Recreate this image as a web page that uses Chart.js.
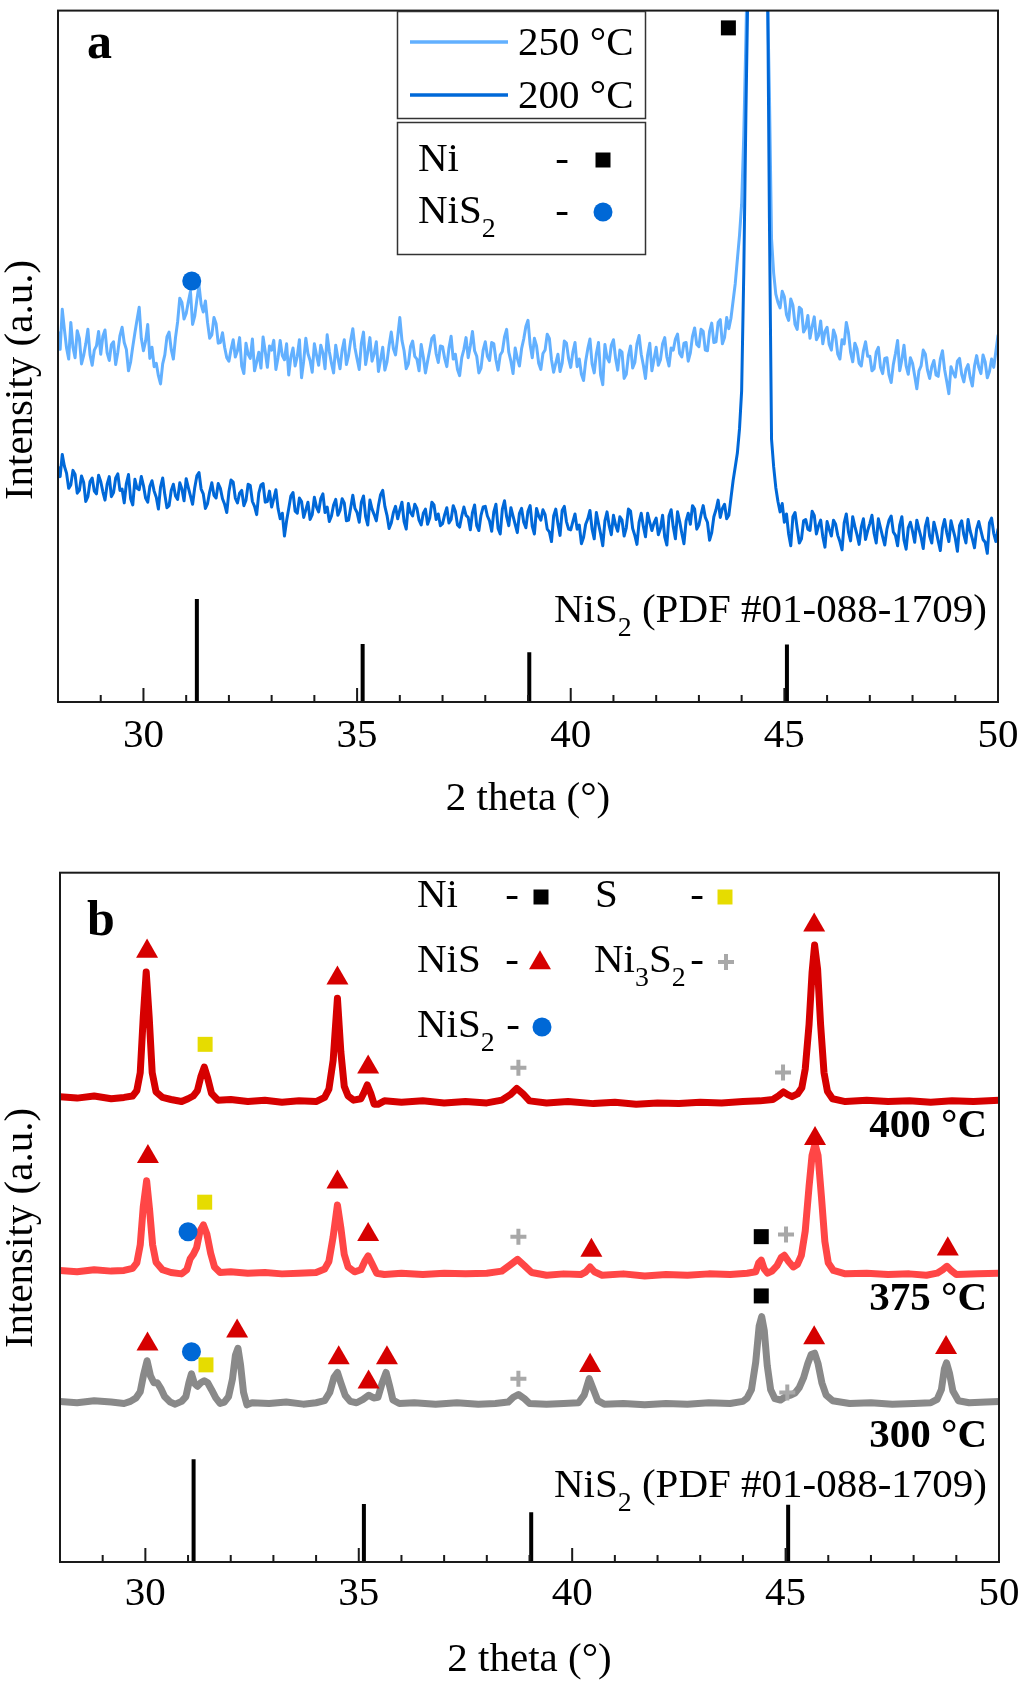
<!DOCTYPE html>
<html>
<head>
<meta charset="utf-8">
<script src="https://cdn.jsdelivr.net/npm/chart.js@4.4.1/dist/chart.umd.min.js"></script>
<style>
html, body { margin: 0; padding: 0; background: #fff; }
#wrap { position: relative; width: 1020px; height: 1681px; }
canvas { position: absolute; left: 0; }
#chartA { top: 0; }
#chartB { top: 860px; }
</style>
</head>
<body>
<div id="wrap">
  <canvas id="chartA" width="1020" height="840"></canvas>
  <canvas id="chartB" width="1020" height="821"></canvas>
</div>
<script>
// ---- axis ----
const xTicks = [30, 35, 40, 45, 50];
const xMinorTicks = [29, 31, 32, 33, 34, 36, 37, 38, 39, 41, 42, 43, 44, 46, 47, 48, 49];

// ---- panel a : 2 theta from 28 to 50, step 0.05 ----
const thetaStartA = 28;
const thetaStepA = 0.05;
const int250 = [
  53.5, 51.0, 56.8, 53.9, 51.2, 49.6, 54.9, 51.3, 49.8, 53.7, 52.6, 48.9, 50.1, 51.8, 53.9, 50.2, 48.7, 50.9, 51.5, 53.6,
  50.3, 52.9, 53.8, 50.5, 49.4, 51.7, 52.1, 48.8, 50.6, 53.0, 54.2, 52.0, 51.0, 47.9, 49.2, 51.4, 53.4, 55.3, 57.1, 52.6,
  50.8, 52.2, 54.6, 49.7, 51.3, 48.5, 49.0, 47.2, 46.0, 48.9, 50.2, 52.8, 53.5, 51.0, 49.6, 52.7, 55.0, 58.4, 57.8, 55.4,
  56.2, 57.9, 59.4, 54.6, 55.8, 58.2, 60.3, 57.5, 56.4, 58.0, 54.9, 52.6, 53.1, 55.6, 54.7, 51.9, 52.0, 53.4, 51.3, 49.8,
  49.3, 51.0, 52.4, 49.9, 50.8, 52.7, 48.6, 47.5, 51.9, 50.3, 49.7, 52.5, 47.9, 49.2, 50.6, 48.3, 52.8, 50.7, 48.4, 51.5,
  50.9, 52.3, 48.1, 49.8, 52.3, 50.1, 49.5, 51.8, 47.3, 49.9, 51.2, 48.6, 50.0, 52.4, 46.9, 49.3, 52.6, 50.4, 49.4, 47.7,
  51.8, 50.2, 48.7, 51.6, 50.5, 48.2, 53.1, 50.7, 49.0, 47.6, 51.6, 49.8, 48.2, 50.9, 52.4, 48.8, 50.1, 52.3, 54.0, 51.2,
  49.6, 48.1, 51.9, 53.5, 48.8, 50.6, 52.7, 49.3, 50.4, 52.1, 47.8, 49.5, 51.3, 48.0, 49.2, 51.6, 53.5, 51.1, 50.2, 52.8,
  55.6, 52.3, 50.8, 48.2, 48.9, 51.4, 52.2, 50.0, 49.6, 47.9, 51.7, 49.9, 47.6, 49.3, 50.9, 52.6, 53.0, 50.4, 49.1, 51.5,
  51.4, 49.7, 48.5, 51.2, 52.9, 49.6, 50.3, 48.1, 47.2, 49.8, 51.0, 52.7, 49.8, 51.5, 53.6, 50.8, 50.0, 47.6, 48.3, 50.9,
  52.1, 50.0, 49.4, 52.0, 51.8, 49.5, 48.0, 50.2, 50.7, 52.8, 53.9, 50.6, 49.3, 47.5, 51.2, 49.7, 48.6, 51.1, 52.5, 54.3,
  55.2, 51.7, 49.8, 52.6, 51.5, 49.0, 48.1, 50.4, 50.9, 53.2, 52.6, 49.5, 47.7, 49.0, 50.3, 47.8, 49.0, 52.2, 51.9, 49.7,
  48.4, 50.6, 52.0, 48.5, 49.6, 47.4, 46.5, 49.3, 51.1, 52.5, 48.9, 47.6, 50.4, 52.0, 47.3, 45.9, 51.7, 49.8, 49.2, 51.6,
  52.4, 49.7, 48.0, 50.9, 50.6, 46.8, 47.4, 50.1, 51.5, 48.3, 49.1, 51.8, 53.0, 50.3, 48.7, 46.8, 50.2, 51.9, 47.9, 49.6,
  51.3, 48.7, 49.5, 51.8, 52.7, 49.9, 48.6, 51.2, 50.9, 52.5, 53.2, 50.4, 49.9, 51.9, 52.0, 49.3, 50.5, 52.9, 54.1, 51.7,
  51.4, 53.9, 53.6, 50.9, 50.8, 53.6, 54.8, 52.0, 52.1, 54.9, 55.3, 51.8, 52.7, 55.6, 54.0, 55.5, 58.0, 60.5, 64.0, 67.5,
  72.0, 82.0, 96.0, 112, 130, 140, 145, 146, 145, 140, 130, 118, 104, 88.0, 67.0, 62.0, 59.0, 57.8, 57.0, 59.4,
  58.6, 56.0, 55.2, 58.3, 57.4, 54.6, 53.9, 57.1, 56.8, 53.5, 54.1, 55.9, 52.6, 54.3, 55.7, 52.4, 53.0, 55.1, 51.8, 53.6,
  54.2, 51.7, 50.9, 53.8, 52.9, 50.3, 49.6, 52.4, 51.8, 54.9, 53.4, 50.6, 49.2, 51.9, 51.1, 49.0, 48.6, 50.8, 52.1, 50.0,
  50.0, 47.9, 48.2, 50.6, 51.3, 48.4, 47.5, 49.7, 49.8, 47.3, 46.2, 48.8, 50.4, 52.3, 47.9, 49.5, 51.6, 48.6, 47.4, 49.8,
  49.0, 47.2, 45.3, 47.9, 48.6, 50.9, 50.3, 48.0, 46.8, 48.5, 49.4, 47.3, 47.1, 49.6, 50.8, 48.1, 46.4, 44.6, 48.5, 47.6,
  47.0, 49.3, 49.7, 47.4, 46.3, 48.1, 48.8, 46.9, 45.7, 48.6, 50.1, 48.4, 47.5, 50.2, 49.2, 46.9, 47.8, 49.6, 48.4, 50.7,
  53.0
];
const int200 = [
  34.0, 32.6, 35.8, 34.1, 33.1, 30.9, 31.4, 33.5, 32.9, 30.2, 30.6, 32.7, 31.8, 29.0, 29.7, 31.9, 32.4, 30.5, 30.1, 32.8,
  31.9, 30.4, 29.2, 31.5, 32.6, 29.7, 30.3, 32.4, 33.0, 30.6, 30.8, 28.8, 31.6, 32.9, 29.4, 28.5, 32.2, 30.9, 30.7, 32.6,
  31.3, 29.5, 28.9, 31.2, 32.0, 30.5, 29.6, 27.9, 31.1, 32.4, 30.0, 28.1, 28.4, 30.6, 31.5, 29.8, 29.3, 31.7, 30.8, 29.1,
  32.3, 31.0, 29.8, 28.6, 31.0, 32.7, 33.2, 30.8, 30.1, 28.0, 28.7, 30.4, 31.7, 29.9, 29.5, 31.6, 30.9, 29.4, 28.6, 27.4,
  30.4, 32.1, 31.8, 29.5, 28.8, 30.2, 30.6, 28.4, 29.2, 31.5, 31.3, 29.0, 28.3, 27.1, 30.2, 31.4, 31.6, 28.9, 29.0, 30.5,
  28.2, 29.4, 30.7, 28.0, 26.5, 27.3, 24.0, 26.2, 28.0, 29.8, 30.3, 27.6, 27.3, 29.5, 29.0, 26.7, 27.8, 28.9, 26.4, 27.1,
  29.6, 28.2, 27.5, 29.4, 30.1, 27.4, 28.2, 26.1, 26.9, 28.5, 29.3, 27.0, 27.7, 29.4, 28.8, 26.2, 26.3, 28.1, 29.9, 28.0,
  27.4, 26.0, 28.9, 29.8, 26.8, 25.6, 29.2, 27.9, 27.1, 26.2, 28.4, 30.0, 30.6, 28.3, 27.0, 25.1, 25.9, 27.4, 28.3, 26.5,
  27.8, 28.9, 26.1, 25.0, 28.7, 27.4, 26.9, 28.6, 28.0, 26.3, 25.6, 27.3, 27.9, 25.7, 26.6, 28.9, 28.5, 26.4, 27.2, 25.5,
  25.8, 27.1, 28.1, 25.9, 26.4, 28.4, 27.6, 25.6, 25.3, 26.9, 28.2, 27.0, 26.7, 24.9, 27.4, 28.5, 25.5, 24.8, 27.0, 28.2,
  28.3, 26.9, 26.2, 24.7, 27.5, 28.6, 25.1, 24.3, 27.9, 29.1, 26.8, 25.5, 28.1, 26.9, 25.7, 24.5, 27.3, 28.0, 26.0, 25.2,
  27.6, 28.4, 25.4, 24.3, 28.0, 26.9, 26.3, 27.8, 27.1, 25.0, 24.6, 23.2, 26.9, 27.9, 25.8, 24.1, 27.7, 28.3, 26.1, 25.0,
  24.9, 26.1, 27.2, 25.0, 25.6, 22.9, 23.8, 25.7, 26.5, 27.7, 25.0, 23.6, 27.4, 25.8, 24.3, 22.6, 26.2, 27.5, 25.5, 24.2,
  27.0, 25.6, 24.7, 26.8, 26.3, 24.0, 25.2, 27.9, 27.6, 25.1, 24.1, 22.8, 26.0, 27.3, 25.4, 23.9, 27.3, 26.0, 24.8, 25.9,
  26.6, 24.2, 25.1, 27.0, 23.9, 22.7, 26.9, 27.8, 25.3, 23.6, 27.5, 26.1, 24.4, 22.9, 26.2, 27.3, 25.7, 28.4, 27.9, 25.0,
  25.6, 27.1, 28.4, 26.7, 26.0, 23.4, 24.5, 26.8, 27.8, 29.2, 26.7, 28.0, 28.6, 26.5, 27.0, 29.5, 32.0, 34.0, 36.0, 39.5,
  45.0, 62.0, 85.0, 105, 125, 134, 140, 141, 140, 135, 125, 118, 110, 70.0, 38.0, 34.0, 31.0, 29.0, 27.5, 28.7,
  26.0, 27.2, 24.3, 22.6, 26.8, 27.4, 25.1, 23.0, 23.6, 26.2, 26.4, 25.0, 24.8, 27.6, 27.0, 24.3, 25.5, 26.3, 23.9, 22.4,
  26.1, 25.0, 24.0, 26.3, 25.7, 24.1, 23.2, 22.0, 25.9, 27.2, 24.6, 23.3, 26.8, 25.4, 24.2, 22.8, 25.3, 26.5, 23.5, 24.8,
  25.8, 27.0, 24.4, 23.0, 26.5, 25.2, 23.9, 22.7, 25.0, 26.3, 26.9, 24.6, 24.1, 22.6, 25.6, 26.8, 23.4, 22.1, 25.2, 26.0,
  24.7, 23.1, 26.3, 25.0, 23.8, 22.2, 25.4, 26.6, 24.0, 23.0, 26.0, 24.8, 23.3, 21.9, 25.1, 26.4, 24.5, 23.2, 26.2, 24.9,
  23.7, 21.8, 25.5, 26.2, 24.2, 23.0, 26.4, 24.7, 23.6, 22.3, 25.0, 26.1, 24.8, 23.5, 23.1, 21.5, 25.9, 26.6, 24.4, 23.2,
  25.0
];
const seriesLabelsA = ['250 °C', '200 °C'];

// NiS2 reference pattern (PDF #01-088-1709)
const stickPosA = [31.25, 35.13, 39.03, 45.06];
const stickPosB = [31.13, 35.12, 39.04, 45.06];
const stickHeights = [14.9, 8.4, 7.2, 8.3];

// phase markers, panel a
const niMarkA = [[43.69, 97.5]];
const nis2MarkA = [[31.13, 60.9]];

// ---- panel b ----
const theta400 = [28.0, 28.4, 28.8, 29.2, 29.5, 29.7, 29.8, 29.88, 29.95, 30.02, 30.09, 30.16, 30.25, 30.4, 30.6, 30.85, 31.0, 31.12, 31.22, 31.3, 31.38, 31.46, 31.55, 31.7, 32.0, 32.4, 32.8, 33.2, 33.6, 34.0, 34.2, 34.3, 34.4, 34.5, 34.58, 34.66, 34.75, 34.88, 35.05, 35.13, 35.2, 35.28, 35.36, 35.45, 35.6, 36.0, 36.5, 37.0, 37.5, 38.0, 38.35, 38.55, 38.7, 38.85, 39.0, 39.4, 39.9, 40.5, 41.0, 41.5, 42.0, 42.5, 43.0, 43.5, 44.0, 44.4, 44.7, 44.85, 44.95, 45.05, 45.15, 45.28, 45.38, 45.46, 45.55, 45.62, 45.68, 45.75, 45.82, 45.9, 45.98, 46.1, 46.4, 46.9, 47.4, 47.9, 48.4, 48.9, 49.4, 50.0];
const int400 = [67.5, 67.3, 67.6, 67.2, 67.4, 67.6, 68.4, 71.0, 79.0, 85.6, 79.0, 71.0, 68.2, 67.4, 67.1, 66.8, 67.2, 67.6, 68.4, 70.4, 71.8, 70.2, 68.0, 67.0, 67.1, 66.8, 67.0, 66.7, 66.9, 66.8, 67.4, 68.6, 72.8, 81.8, 74.0, 69.0, 67.6, 67.0, 67.2, 68.2, 69.2, 68.0, 66.4, 66.4, 66.9, 66.7, 66.9, 66.6, 66.8, 66.6, 67.0, 67.8, 68.7, 67.9, 66.9, 66.6, 66.8, 66.5, 66.7, 66.4, 66.6, 66.5, 66.7, 66.6, 66.8, 66.9, 67.1, 67.7, 68.2, 67.8, 67.5, 67.9, 68.8, 71.5, 78.0, 85.5, 89.5, 86.0, 78.0, 71.0, 68.3, 67.2, 66.8, 67.0, 66.8, 66.9, 66.7, 66.9, 66.8, 67.0];
const theta375 = [28.0, 28.4, 28.8, 29.2, 29.5, 29.7, 29.8, 29.88, 29.95, 30.03, 30.1, 30.17, 30.25, 30.4, 30.6, 30.85, 30.97, 31.05, 31.12, 31.2, 31.28, 31.36, 31.44, 31.53, 31.62, 31.75, 32.0, 32.4, 32.8, 33.2, 33.6, 34.0, 34.2, 34.3, 34.4, 34.5, 34.58, 34.66, 34.75, 34.9, 35.05, 35.14, 35.22, 35.3, 35.42, 35.6, 36.0, 36.5, 37.0, 37.5, 38.0, 38.35, 38.55, 38.72, 38.88, 39.05, 39.4, 39.8, 40.2, 40.32, 40.42, 40.52, 40.7, 41.2, 41.7, 42.2, 42.7, 43.2, 43.7, 44.1, 44.3, 44.37, 44.43, 44.5, 44.58, 44.68, 44.8, 44.9, 44.97, 45.07, 45.18, 45.28, 45.37, 45.46, 45.55, 45.62, 45.69, 45.76, 45.84, 45.92, 46.0, 46.12, 46.4, 46.9, 47.4, 47.9, 48.3, 48.55, 48.68, 48.78, 48.88, 49.0, 49.5, 50.0];
const int375 = [42.3, 42.1, 42.4, 42.2, 42.3, 42.6, 43.4, 46.0, 51.5, 55.3, 51.0, 46.0, 43.5, 42.4, 42.0, 41.8, 42.4, 44.0, 44.6, 45.6, 48.0, 48.9, 47.6, 44.8, 42.8, 42.0, 42.1, 41.9, 42.0, 41.8, 41.9, 42.0, 42.5, 43.6, 47.2, 51.8, 48.5, 44.6, 42.8, 42.1, 42.4, 43.6, 44.4, 43.4, 41.9, 41.7, 41.9, 41.7, 41.9, 41.8, 41.9, 42.2, 43.1, 43.9, 43.0, 42.0, 41.6, 41.8, 41.7, 42.1, 42.8, 42.1, 41.6, 41.8, 41.5, 41.7, 41.6, 41.8, 41.7, 41.9, 42.1, 43.4, 43.8, 42.5, 41.9, 42.2, 43.0, 44.2, 44.5, 43.6, 42.8, 43.2, 44.5, 48.0, 54.5, 59.0, 60.6, 59.0, 53.0, 46.5, 43.4, 42.3, 41.8, 41.9, 41.7, 41.8, 41.6, 41.9, 42.4, 42.9, 42.3, 41.7, 41.8, 41.9];
const theta300 = [28.0, 28.4, 28.8, 29.2, 29.5, 29.65, 29.78, 29.88, 29.96, 30.04, 30.12, 30.2, 30.28, 30.36, 30.45, 30.58, 30.7, 30.85, 30.95, 31.02, 31.08, 31.15, 31.22, 31.3, 31.38, 31.46, 31.55, 31.65, 31.75, 31.85, 31.95, 32.04, 32.11, 32.17, 32.23, 32.3, 32.38, 32.5, 32.9, 33.3, 33.7, 34.0, 34.2, 34.32, 34.42, 34.5, 34.58, 34.68, 34.8, 34.95, 35.1, 35.23, 35.35, 35.45, 35.55, 35.64, 35.72, 35.8, 35.95, 36.3, 36.8, 37.3, 37.8, 38.2, 38.5, 38.62, 38.74, 38.88, 39.0, 39.4, 39.8, 40.15, 40.28, 40.4, 40.5, 40.6, 40.75, 41.2, 41.7, 42.2, 42.7, 43.2, 43.7, 44.0, 44.1, 44.2, 44.3, 44.38, 44.44, 44.5, 44.57, 44.65, 44.75, 44.88, 45.0, 45.12, 45.22, 45.32, 45.42, 45.52, 45.6, 45.68, 45.76, 45.85, 45.95, 46.1, 46.5, 47.0, 47.5, 48.0, 48.4, 48.55, 48.65, 48.72, 48.77, 48.84, 48.92, 49.05, 49.3, 49.7, 50.0];
const int300 = [23.3, 23.1, 23.4, 23.2, 23.0, 23.3, 23.8, 24.7, 27.2, 29.2, 27.0, 26.0, 26.0, 25.2, 24.0, 23.2, 22.9, 23.3, 24.0, 26.0, 27.3, 25.9, 25.5, 26.0, 26.3, 26.0, 25.0, 23.8, 23.0, 23.2, 24.0, 26.5, 30.0, 31.0, 28.6, 24.6, 22.8, 23.1, 23.0, 23.2, 22.9, 23.1, 23.4, 24.6, 26.8, 27.5, 26.0, 24.2, 23.3, 23.1, 23.6, 24.2, 23.8, 23.9, 26.0, 27.5, 25.6, 23.5, 23.0, 23.1, 22.9, 23.1, 22.9, 23.0, 23.2, 23.9, 24.3, 23.7, 23.0, 22.9, 23.0, 23.1, 24.2, 26.6, 25.0, 23.4, 22.9, 23.0, 22.8, 23.0, 22.9, 23.1, 23.0, 23.3, 23.8, 25.0, 29.0, 34.2, 35.6, 33.6, 28.5, 25.0, 23.7, 23.5, 24.0, 24.2, 24.5, 25.3, 26.7, 28.8, 30.1, 30.3, 28.8, 26.0, 24.2, 23.4, 23.0, 23.1, 22.9, 23.0, 23.1, 23.6, 25.0, 28.0, 28.9, 27.4, 24.8, 23.4, 23.1, 23.2, 23.3];
const seriesLabelsB = ['400 °C', '375 °C', '300 °C'];

// phase markers, panel b  [2theta, intensity]
const nisMarkB = [[30.04, 88.6], [34.5, 84.7], [35.22, 71.8], [45.67, 92.4],
                  [30.06, 58.8], [34.5, 55.1], [35.22, 47.5], [40.45, 45.2], [45.69, 61.4], [48.8, 45.4],
                  [30.05, 31.6], [32.15, 33.5], [34.53, 29.6], [35.23, 26.1], [35.66, 29.6], [40.42, 28.5], [45.67, 32.5], [48.76, 31.1]];
const sMarkB = [[31.4, 75.1], [31.39, 52.2], [31.42, 28.6]];
const niMarkB = [[44.43, 47.2], [44.43, 38.6]];
const nis2MarkB = [[31.0, 47.9], [31.08, 30.5]];
const ni3s2MarkB = [[38.74, 71.7], [44.94, 71.0], [38.74, 47.2], [45.01, 47.5], [38.74, 26.6], [45.04, 24.6]];

// ---- styles ----
const serif = '"Liberation Serif", "Times New Roman", Times, serif';
Chart.defaults.font.family = serif;
Chart.defaults.color = '#000';

const marks = {
  ni:    { pointStyle: 'rect',     radius: 10.6, color: '#000000' },
  s:     { pointStyle: 'rect',     radius: 10.6, color: '#E6DC00' },
  nis:   { pointStyle: 'triangle', radius: 12.7, color: '#D60000' },
  nis2:  { pointStyle: 'circle',   radius: 9.5,  color: '#0068D6' },
  ni3s2: { pointStyle: 'cross',    radius: 8,    color: '#A8A8A8', border: 4 }
};

function toPts(xs, ys) { return xs.map((x, i) => ({ x: x, y: ys[i] })); }
function gridPts(start, step, ys) { return ys.map((y, i) => ({ x: +(start + i * step).toFixed(2), y: y })); }
function stickPts(pos) {
  const out = [];
  pos.forEach((p, i) => { out.push({ x: p, y: 0 }, { x: p, y: stickHeights[i] }, { x: p, y: null }); });
  return out;
}
function pairPts(arr) { return arr.map(p => ({ x: p[0], y: p[1] })); }

function lineSet(label, pts, color, width, order) {
  return { label: label, data: pts, showLine: true, borderColor: color, borderWidth: width,
           pointRadius: 0, tension: 0, borderJoinStyle: 'round', borderCapStyle: 'round', order: order };
}
function stickSet(pos) {
  return { label: 'NiS2 PDF', data: stickPts(pos), showLine: true, spanGaps: false, borderColor: '#000',
           borderWidth: 4, pointRadius: 0, borderCapStyle: 'butt', order: 9 };
}
function markSet(label, arr, m) {
  return { label: label, data: pairPts(arr), showLine: false, pointStyle: m.pointStyle,
           pointRadius: m.radius, pointBackgroundColor: m.color, pointBorderColor: m.color,
           pointBorderWidth: m.border || 0, clip: false, order: 0 };
}

function drawMark(ctx, m, x, y) {
  ctx.save();
  ctx.fillStyle = m.color;
  ctx.strokeStyle = m.color;
  ctx.lineWidth = m.border || 0;
  Chart.helpers.drawPoint(ctx, { pointStyle: m.pointStyle, radius: m.radius, rotation: 0, borderWidth: m.border || 0 }, x, y);
  ctx.restore();
}

// text with subscripts: segs = [[text, isSub], ...]
function drawRich(ctx, segs, x, y, size, align, weight) {
  const f = (s) => (weight || 'normal') + ' ' + s + 'px ' + serif;
  let w = 0;
  segs.forEach(s => { ctx.font = f(s[1] ? size * 0.68 : size); w += ctx.measureText(s[0]).width; });
  let cx = align === 'right' ? x - w : (align === 'center' ? x - w / 2 : x);
  ctx.textAlign = 'left';
  ctx.textBaseline = 'alphabetic';
  ctx.fillStyle = '#000';
  segs.forEach(s => {
    ctx.font = f(s[1] ? size * 0.68 : size);
    ctx.fillText(s[0], cx, s[1] ? y + size * 0.34 : y);
    cx += ctx.measureText(s[0]).width;
  });
}

// frame + inward bottom ticks + y title
function frameTicksPlugin(yTitleCenter) {
  return {
    id: 'frameTicks',
    afterDraw(chart) {
      const ctx = chart.ctx, a = chart.chartArea, xs = chart.scales.x;
      ctx.save();
      ctx.strokeStyle = '#1a1a1a';
      ctx.lineWidth = 2;
      ctx.strokeRect(a.left, a.top, a.right - a.left, a.bottom - a.top);
      ctx.beginPath();
      xTicks.forEach(v => { const px = xs.getPixelForValue(v); ctx.moveTo(px, a.bottom); ctx.lineTo(px, a.bottom - 14); });
      xMinorTicks.forEach(v => { const px = xs.getPixelForValue(v); ctx.moveTo(px, a.bottom); ctx.lineTo(px, a.bottom - 7); });
      ctx.stroke();
      // y axis title
      ctx.translate(32, yTitleCenter);
      ctx.rotate(-Math.PI / 2);
      ctx.font = '41px ' + serif;
      ctx.fillStyle = '#000';
      ctx.textAlign = 'center';
      ctx.textBaseline = 'alphabetic';
      ctx.fillText('Intensity (a.u.)', 0, 0);
      ctx.restore();
    }
  };
}

function xScale(padTick, padTitle, h) {
  return {
    type: 'linear', min: 28, max: 50,
    afterBuildTicks: s => { s.ticks = xTicks.map(v => ({ value: v })); },
    afterFit: s => { s.height = h; s.paddingLeft = 0; s.paddingRight = 0; },
    grid: { display: false, drawTicks: false },
    border: { display: false },
    ticks: { font: { size: 41 }, color: '#000', padding: padTick, maxRotation: 0, autoSkip: false },
    title: { display: true, text: '2 theta (°)', font: { size: 41 }, color: '#000', padding: { top: 0, bottom: padTitle } }
  };
}
function yScale(w) {
  return {
    type: 'linear', min: 0, max: 100,
    afterFit: s => { s.width = w; s.paddingTop = 0; s.paddingBottom = 0; },
    grid: { display: false, drawTicks: false },
    border: { display: false },
    ticks: { display: false }
  };
}

// ---- panel a ----
const colorsA = ['#62B0FF', '#0068D8'];
const annotA = {
  id: 'annotA',
  afterDraw(chart) {
    const ctx = chart.ctx;
    ctx.save();
    drawRich(ctx, [['a', false]], 87, 58, 50, 'left', 'bold');
    ctx.strokeStyle = '#333';
    ctx.lineWidth = 1.5;
    ctx.strokeRect(397.5, 11.5, 248, 107);
    ctx.strokeRect(397.5, 122.5, 248, 132);
    [42, 95].forEach((y, i) => {
      ctx.strokeStyle = colorsA[i];
      ctx.lineWidth = 3.5;
      ctx.beginPath(); ctx.moveTo(410, y); ctx.lineTo(508, y); ctx.stroke();
      drawRich(ctx, [[seriesLabelsA[i], false]], 518, y + 13, 41, 'left');
    });
    drawRich(ctx, [['Ni', false]], 418, 171, 41, 'left');
    drawRich(ctx, [['NiS', false], ['2', true]], 418, 223, 41, 'left');
    drawRich(ctx, [['-', false]], 562, 171, 41, 'center');
    drawRich(ctx, [['-', false]], 562, 223, 41, 'center');
    drawMark(ctx, marks.ni, 603, 160);
    drawMark(ctx, marks.nis2, 603, 212);
    drawRich(ctx, [['NiS', false], ['2', true], [' (PDF #01-088-1709)', false]], 987, 622, 41, 'right');
    ctx.restore();
  }
};

new Chart(document.getElementById('chartA'), {
  type: 'scatter',
  data: {
    datasets: [
      markSet('Ni', niMarkA, marks.ni),
      markSet('NiS2', nis2MarkA, marks.nis2),
      lineSet(seriesLabelsA[1], gridPts(thetaStartA, thetaStepA, int200), colorsA[1], 3, 1),
      lineSet(seriesLabelsA[0], gridPts(thetaStartA, thetaStepA, int250), colorsA[0], 3, 2),
      stickSet(stickPosA)
    ]
  },
  options: {
    responsive: false, animation: false, devicePixelRatio: 1, events: [],
    layout: { padding: { left: 0, right: 22, top: 3, bottom: 0 } },
    plugins: { legend: { display: false }, tooltip: { enabled: false } },
    scales: { x: xScale(10, 16, 138), y: yScale(58) }
  },
  plugins: [frameTicksPlugin(380), annotA]
});

// ---- panel b ----
const colorsB = ['#D60000', '#FF4646', '#898989'];
const annotB = {
  id: 'annotB',
  afterDraw(chart) {
    const ctx = chart.ctx;
    ctx.save();
    drawRich(ctx, [['b', false]], 87, 75, 50, 'left', 'bold');
    // phase key
    drawRich(ctx, [['Ni', false]], 417, 47, 41, 'left');
    drawRich(ctx, [['NiS', false]], 417, 112, 41, 'left');
    drawRich(ctx, [['NiS', false], ['2', true]], 417, 177, 41, 'left');
    drawRich(ctx, [['S', false]], 595, 47, 41, 'left');
    drawRich(ctx, [['Ni', false], ['3', true], ['S', false], ['2', true]], 594, 112, 41, 'left');
    drawRich(ctx, [['-', false]], 512, 47, 41, 'center');
    drawRich(ctx, [['-', false]], 512, 112, 41, 'center');
    drawRich(ctx, [['-', false]], 513, 177, 41, 'center');
    drawRich(ctx, [['-', false]], 697, 47, 41, 'center');
    drawRich(ctx, [['-', false]], 697, 112, 41, 'center');
    drawMark(ctx, marks.ni, 541, 37);
    drawMark(ctx, marks.s, 725, 37);
    drawMark(ctx, marks.nis, 540, 103);
    drawMark(ctx, marks.ni3s2, 726, 102);
    drawMark(ctx, marks.nis2, 542, 167);
    // sample labels
    drawRich(ctx, [[seriesLabelsB[0], false]], 987, 277, 41, 'right', 'bold');
    drawRich(ctx, [[seriesLabelsB[1], false]], 987, 450, 41, 'right', 'bold');
    drawRich(ctx, [[seriesLabelsB[2], false]], 987, 587, 41, 'right', 'bold');
    drawRich(ctx, [['NiS', false], ['2', true], [' (PDF #01-088-1709)', false]], 987, 637, 41, 'right');
    ctx.restore();
  }
};

new Chart(document.getElementById('chartB'), {
  type: 'scatter',
  data: {
    datasets: [
      markSet('NiS', nisMarkB, marks.nis),
      markSet('S', sMarkB, marks.s),
      markSet('Ni', niMarkB, marks.ni),
      markSet('NiS2', nis2MarkB, marks.nis2),
      markSet('Ni3S2', ni3s2MarkB, marks.ni3s2),
      lineSet(seriesLabelsB[0], toPts(theta400, int400), colorsB[0], 7, 1),
      lineSet(seriesLabelsB[1], toPts(theta375, int375), colorsB[1], 7, 2),
      lineSet(seriesLabelsB[2], toPts(theta300, int300), colorsB[2], 7, 3),
      stickSet(stickPosB)
    ]
  },
  options: {
    responsive: false, animation: false, devicePixelRatio: 1, events: [],
    layout: { padding: { left: 0, right: 21, top: 3, bottom: 0 } },
    plugins: { legend: { display: false }, tooltip: { enabled: false } },
    scales: { x: xScale(8, -4, 119), y: yScale(60) }
  },
  plugins: [frameTicksPlugin(368), annotB]
});
</script>
</body>
</html>
